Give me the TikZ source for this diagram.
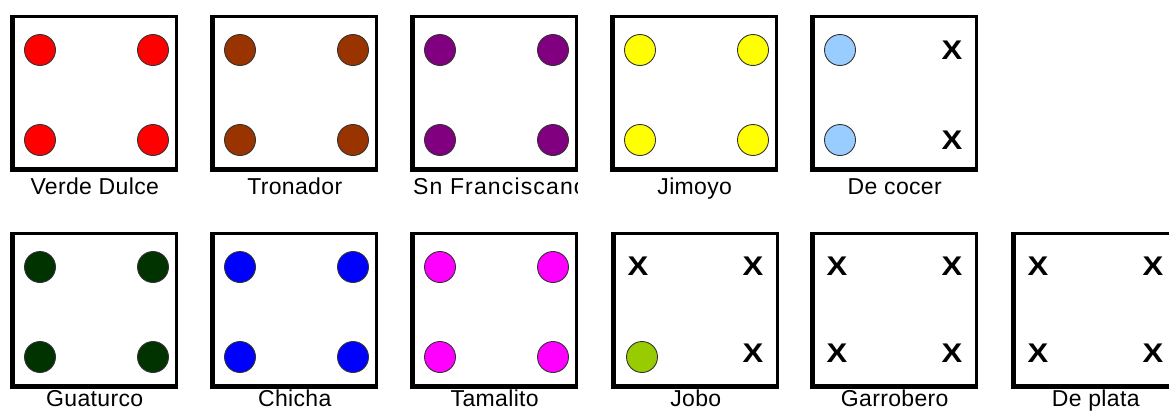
\documentclass[tikz,border=0pt]{standalone}
\usepackage{fontspec}
\setmainfont{Liberation Sans}
\usetikzlibrary{calc}
\definecolor{seedred}{HTML}{FF0000}
\definecolor{seedbrown}{HTML}{993300}
\definecolor{seedpurple}{HTML}{800080}
\definecolor{seedyellow}{HTML}{FFFF00}
\definecolor{seedsky}{HTML}{99CCFF}
\definecolor{seeddark}{HTML}{003300}
\definecolor{seedblue}{HTML}{0000FF}
\definecolor{seedpink}{HTML}{FF00FF}
\definecolor{seedlime}{HTML}{99CC00}
\definecolor{rimgray}{HTML}{333333}
\newcommand{\lostmark}{\scalebox{1.15}[1]{X}}
\tikzset{
  tray/.style={
    rectangle,
    draw=black,
    line width=2.5pt,
    fill=white,
    anchor=north west,
    inner sep=0pt,
    minimum width=163pt,
    minimum height=152pt
  },
  seed/.style={
    circle,
    draw=rimgray,
    line width=0.9pt,
    inner sep=0pt,
    minimum size=31pt
  },
  gone/.style={
    inner sep=0pt,
    font=\bfseries\fontsize{27}{27}\selectfont
  },
  caption/.style={
    inner sep=0pt,
    anchor=base,
    font=\addfontfeature{LetterSpace=1.5}\fontsize{23}{23}\selectfont
  },
  shade/.style={line width=4.5pt,draw=black}
}

\begin{document}
\begin{tikzpicture}[x=1pt,y=-1pt]
    \useasboundingbox (0,0) rectangle (1169,410);

    % trays with four seeds
    \foreach \n/\x/\y/\c/\t in {1/12/15/seedred/Verde Dulce, 2/212/15/seedbrown/Tronador,
        4/612/15/seedyellow/Jimoyo, 6/12/232/seeddark/Guaturco,
        7/212/232/seedblue/Chicha, 8/412/232/seedpink/Tamalito}{
      \node[tray] (b\n) at (\x,\y) {};
      \draw[shade] (b\n.north west) -- (b\n.south west) -- (b\n.south east);
      \node[seed,fill=\c] (s\n a) at ($(b\n.north west)+(28,35)$) {};
      \node[seed,fill=\c] (s\n b) at ($(b\n.north west)+(141,35)$) {};
      \node[seed,fill=\c] (s\n c) at ($(b\n.north west)+(28,125)$) {};
      \node[seed,fill=\c] (s\n d) at ($(b\n.north west)+(141,125)$) {};
      \ifnum\y<100
        \node[caption] (l\n) at ($(b\n.south)+(0,25)$) {\t};
      \else
        \node[caption] (l\n) at ($(b\n.south)+(0,20)$) {\t};
      \fi
    }

    % Sn Franciscano, label cut at the tray edge
    \node[tray] (b3) at (412,15) {};
    \draw[shade] (b3.north west) -- (b3.south west) -- (b3.south east);
    \node[seed,fill=seedpurple] (s3a) at ($(b3.north west)+(28,35)$) {};
    \node[seed,fill=seedpurple] (s3b) at ($(b3.north west)+(141,35)$) {};
    \node[seed,fill=seedpurple] (s3c) at ($(b3.north west)+(28,125)$) {};
    \node[seed,fill=seedpurple] (s3d) at ($(b3.north west)+(141,125)$) {};
    \begin{scope}
      \clip ($(b3.south west)+(0,2)$) rectangle ($(b3.south east)+(0,40)$);
      \node[caption,anchor=base west,font=\addfontfeature{LetterSpace=5}\fontsize{23}{23}\selectfont]
        (l3) at ($(b3.south west)+(1,25)$) {Sn Franciscano};
    \end{scope}

    % De cocer
    \node[tray] (b5) at (812,15) {};
    \draw[shade] (b5.north west) -- (b5.south west) -- (b5.south east);
    \node[seed,fill=seedsky] (s5a) at ($(b5.north west)+(28,35)$) {};
    \node[gone] (s5b) at ($(b5.north west)+(140,35)$) {\lostmark};
    \node[seed,fill=seedsky] (s5c) at ($(b5.north west)+(28,125)$) {};
    \node[gone] (s5d) at ($(b5.north west)+(140,125)$) {\lostmark};
    \node[caption] (l5) at ($(b5.south)+(0,25)$) {De cocer};

    % Jobo
    \node[tray] (b9) at (613,232) {};
    \draw[shade] (b9.north west) -- (b9.south west) -- (b9.south east);
    \node[gone] (s9a) at ($(b9.north west)+(25,34)$) {\lostmark};
    \node[gone] (s9b) at ($(b9.north west)+(140,34)$) {\lostmark};
    \node[seed,fill=seedlime] (s9c) at ($(b9.north west)+(29,125)$) {};
    \node[gone] (s9d) at ($(b9.north west)+(140,121)$) {\lostmark};
    \node[caption] (l9) at ($(b9.south)+(0,20)$) {Jobo};

    % empty trays
    \foreach \n/\x/\t in {10/812/Garrobero, 11/1013/De plata}{
      \node[tray] (b\n) at (\x,232) {};
      \draw[shade] (b\n.north west) -- (b\n.south west) -- (b\n.south east);
      \node[gone] (s\n a) at ($(b\n.north west)+(25,34)$) {\lostmark};
      \node[gone] (s\n b) at ($(b\n.north west)+(140,34)$) {\lostmark};
      \node[gone] (s\n c) at ($(b\n.north west)+(25,121)$) {\lostmark};
      \node[gone] (s\n d) at ($(b\n.north west)+(140,121)$) {\lostmark};
      \node[caption] (l\n) at ($(b\n.south)+(0,20)$) {\t};
    }
\end{tikzpicture}
\end{document}
